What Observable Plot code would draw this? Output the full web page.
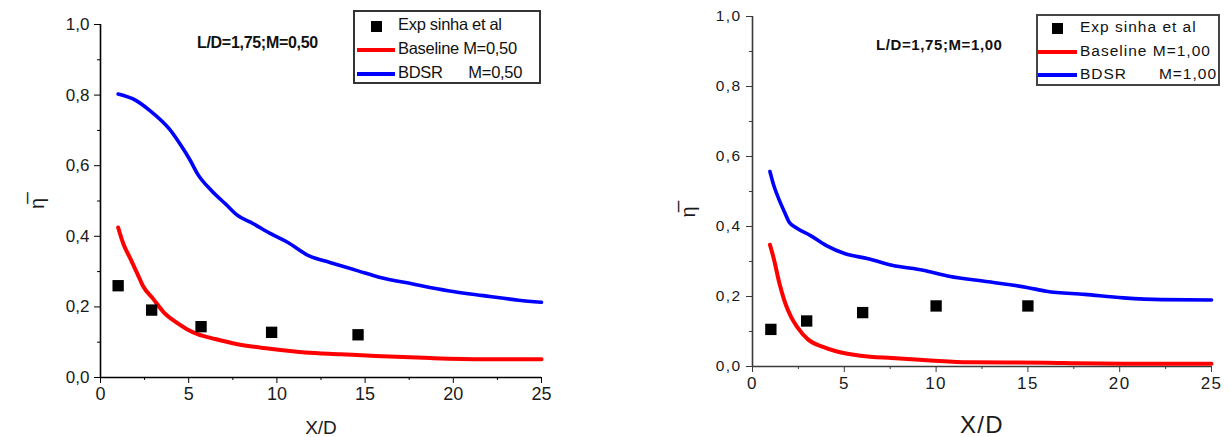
<!DOCTYPE html>
<html>
<head>
<meta charset="utf-8">
<script src="https://cdn.jsdelivr.net/npm/d3@7"></script>
<script src="https://cdn.jsdelivr.net/npm/@observablehq/plot@0.6"></script>
<style>
  html, body { margin: 0; padding: 0; background: #fff; }
  #wrap { position: relative; width: 1229px; height: 437px; overflow: hidden; font-family: "Liberation Sans", Arial, sans-serif; }
  .panel { position: absolute; top: 0; }
  .legend { position: absolute; background: #fff; box-sizing: border-box; color: #111; }
  .row { position: absolute; left: 0; white-space: pre; }
  .swatch-line { position: absolute; height: 4px; }
  .swatch-sq { position: absolute; width: 11px; height: 11px; background: #000; }
  .note { position: absolute; font-weight: bold; white-space: pre; color: #111; }
</style>
</head>
<body>
<div id="wrap"></div>
<script>
// ---- shared ticks ----
const xTicks = [0, 5, 10, 15, 20, 25];
const xMinor = [2.5, 7.5, 12.5, 17.5, 22.5];
const yTicks = [0, 0.2, 0.4, 0.6, 0.8, 1.0];
const yMinor = [0.1, 0.3, 0.5, 0.7, 0.9];

// ---- left panel: L/D=1,75; M=0,50 ----
const leftExpX = [1.0, 2.9, 5.7, 9.7, 14.6];
const leftExpY = [0.260, 0.191, 0.144, 0.128, 0.121];
const leftBaseX = [1.0, 1.3, 1.7, 2.1, 2.4, 3.0, 3.6, 4.3, 4.9, 5.5, 6.5, 7.7, 9.5, 11.6, 13.6, 15.6, 18.7, 21.7, 25];
const leftBaseY = [0.425, 0.378, 0.336, 0.293, 0.260, 0.222, 0.184, 0.156, 0.137, 0.123, 0.109, 0.095, 0.082, 0.071, 0.066, 0.061, 0.055, 0.052, 0.052];
const leftBdsrX = [1.0, 2.0, 2.8, 3.9, 4.5, 5.1, 5.5, 6.3, 7.1, 7.8, 8.5, 9.7, 10.6, 11.8, 13.0, 14.6, 15.8, 17.7, 19.7, 21.7, 23.7, 25];
const leftBdsrY = [0.803, 0.785, 0.756, 0.704, 0.662, 0.614, 0.577, 0.529, 0.491, 0.458, 0.440, 0.406, 0.383, 0.345, 0.326, 0.302, 0.284, 0.265, 0.246, 0.232, 0.219, 0.213];

// ---- right panel: L/D=1,75; M=1,00 ----
const rightExpX = [1.0, 2.95, 6.0, 10.0, 15.0];
const rightExpY = [0.106, 0.130, 0.154, 0.173, 0.173];
const rightBaseX = [0.95, 1.16, 1.47, 1.79, 2.1, 2.42, 3.05, 3.8, 4.6, 5.9, 7.6, 9.7, 11.8, 16.0, 17.7, 20.2, 25];
const rightBaseY = [0.348, 0.308, 0.237, 0.180, 0.142, 0.114, 0.076, 0.057, 0.043, 0.031, 0.024, 0.017, 0.012, 0.011, 0.009, 0.008, 0.008];
const rightBdsrX = [0.95, 1.16, 1.47, 1.79, 2.0, 2.42, 3.16, 4.0, 5.05, 6.3, 7.6, 9.3, 10.7, 12.85, 14.95, 16.0, 18.1, 20.2, 22.3, 25];
const rightBdsrY = [0.557, 0.517, 0.474, 0.436, 0.412, 0.395, 0.374, 0.346, 0.322, 0.308, 0.289, 0.275, 0.258, 0.242, 0.226, 0.215, 0.206, 0.196, 0.191, 0.190];

const legendLabels = ["Exp sinha et al", "Baseline", "BDSR"];
const yTitle = "\u03B7\u0305";
const xTitle = "X/D";
const seriesColors = { base: "#ff0000", bdsr: "#0000ff", exp: "#000000" };

const toPts = (xs, ys) => xs.map((x, i) => ({ x, y: ys[i] }));
const comma = d => d.toFixed(1).replace(".", ",");
const blank = () => "";

function panel(o) {
  return Plot.plot({
    width: o.width, height: 437,
    marginLeft: o.ml, marginRight: o.mr, marginTop: o.mt, marginBottom: o.mb,
    x: { domain: [0, 25] },
    y: { domain: [0, 1] },
    style: { fontFamily: "Liberation Sans, Arial, sans-serif", color: o.textColor, background: "#fff", letterSpacing: o.ls },
    marks: [
      Plot.axisX(xTicks, { tickSize: 6, tickPadding: 4, fontSize: o.xfs, stroke: o.axisColor, tickFormat: d => String(d), label: null }),
      Plot.axisX(xMinor, { tickSize: 3, tickFormat: blank, stroke: o.axisColor, label: null }),
      Plot.axisX([], { label: xTitle, labelAnchor: "center", labelArrow: false, labelOffset: o.xlo, fontSize: o.xlfs }),
      Plot.axisY(yTicks, { tickSize: 6, tickPadding: 5, fontSize: o.yfs, stroke: o.axisColor, tickFormat: comma, label: null }),
      Plot.axisY(yMinor, { tickSize: 3, tickFormat: blank, stroke: o.axisColor, label: null }),
      Plot.text([yTitle], { frameAnchor: "left", rotate: -90, dx: o.ydx, dy: o.ydy, fontSize: 20, fill: o.textColor }),
      Plot.ruleX([0], { stroke: o.axisColor, strokeWidth: 1.6 }),
      Plot.ruleY([0], { stroke: o.axisColor, strokeWidth: 1.6 }),
      Plot.line(toPts(o.baseX, o.baseY), { x: "x", y: "y", stroke: seriesColors.base, strokeWidth: 4, curve: "monotone-x" }),
      Plot.line(toPts(o.bdsrX, o.bdsrY), { x: "x", y: "y", stroke: seriesColors.bdsr, strokeWidth: 3.6, curve: "monotone-x" }),
      Plot.dot(toPts(o.expX, o.expY), { x: "x", y: "y", symbol: "square", r: 6.4, fill: seriesColors.exp })
    ]
  });
}

function legend(o) {
  const lg = document.createElement("div");
  lg.className = "legend";
  Object.assign(lg.style, { left: o.left + "px", top: o.top + "px", width: o.w + "px", height: o.h + "px",
    border: "2px solid " + o.border, fontSize: o.fs + "px", letterSpacing: o.ls });
  const labels = [legendLabels[0], legendLabels[1] + " M=" + o.m, legendLabels[2] + "      M=" + o.m];
  labels.forEach((t, i) => {
    const cy = o.rowY[i];
    if (i === 0) {
      const s = document.createElement("div"); s.className = "swatch-sq";
      Object.assign(s.style, { left: (o.swX + o.swW / 2 - 5.5) + "px", top: (cy - 5.5) + "px" });
      lg.appendChild(s);
    } else {
      const s = document.createElement("div"); s.className = "swatch-line";
      Object.assign(s.style, { left: o.swX + "px", width: o.swW + "px", top: (cy - 2) + "px",
        background: i === 1 ? seriesColors.base : seriesColors.bdsr });
      lg.appendChild(s);
    }
    const r = document.createElement("div"); r.className = "row";
    r.textContent = t;
    Object.assign(r.style, { left: o.textX + "px", top: (cy - o.fs * 0.58) + "px", lineHeight: "1" });
    lg.appendChild(r);
  });
  return lg;
}

const wrap = document.getElementById("wrap");

const left = panel({ width: 560, ml: 100, mr: 19, mt: 24, mb: 60, xfs: 18, yfs: 17, xlfs: 19, xlo: 56, ydx: -63, ydy: 8,
  textColor: "#1a1a1a", axisColor: "#000", ls: "normal",
  expX: leftExpX, expY: leftExpY, baseX: leftBaseX, baseY: leftBaseY, bdsrX: leftBdsrX, bdsrY: leftBdsrY });
left.classList.add("panel"); left.style.left = "0px";
wrap.appendChild(left);

const right = panel({ width: 609, ml: 132, mr: 18, mt: 16, mb: 71, xfs: 17, yfs: 15.5, xlfs: 24, xlo: 66, ydx: -64, ydy: 26,
  textColor: "#1a1a1a", axisColor: "#3a3a3a", ls: "1.4px",
  expX: rightExpX, expY: rightExpY, baseX: rightBaseX, baseY: rightBaseY, bdsrX: rightBdsrX, bdsrY: rightBdsrY });
right.classList.add("panel"); right.style.left = "620px";
wrap.appendChild(right);

wrap.appendChild(legend({ left: 353, top: 10, w: 188, h: 74, border: "#333", fs: 16.5, ls: "-0.3px", m: "0,50",
  rowY: [14, 38, 62], swX: 2, swW: 38, textX: 43 }));
wrap.appendChild(legend({ left: 1036, top: 14, w: 184, h: 72, border: "#444", fs: 15.5, ls: "1px", m: "1,00",
  rowY: [12, 36, 59], swX: 0, swW: 39, textX: 42 }));

const n1 = document.createElement("div"); n1.className = "note";
n1.textContent = "L/D=1,75;M=0,50";
Object.assign(n1.style, { left: "197px", top: "34px", fontSize: "16px", letterSpacing: "-0.3px" });
wrap.appendChild(n1);

const n2 = document.createElement("div"); n2.className = "note";
n2.textContent = "L/D=1,75;M=1,00";
Object.assign(n2.style, { left: "876px", top: "36px", fontSize: "15px", letterSpacing: "0.6px" });
wrap.appendChild(n2);
</script>
</body>
</html>
